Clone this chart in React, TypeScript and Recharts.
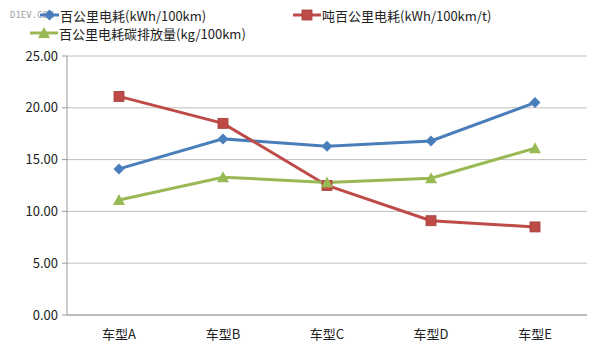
import { LineChart, Line, XAxis, YAxis, CartesianGrid, Legend } from 'recharts';

const categories = ['车型A', '车型B', '车型C', '车型D', '车型E'];
const energy = [14.1, 17.0, 16.3, 16.8, 20.5];
const energyPerTon = [21.1, 18.5, 12.5, 9.1, 8.5];
const carbon = [11.1, 13.3, 12.8, 13.2, 16.1];
const yTicks = [0, 5, 10, 15, 20, 25];
const boundaryTicks = [0, 1, 2, 3, 4, 5];

const SERIES = [
  { key: 'energy', name: '百公里电耗(kWh/100km)', color: '#4a7ebb', shape: 'diamond' },
  { key: 'perTon', name: '吨百公里电耗(kWh/100km/t)', color: '#be4b48', shape: 'square' },
  { key: 'carbon', name: '百公里电耗碳排放量(kg/100km)', color: '#98b954', shape: 'triangle' },
];

const data = categories.map((c, i) => ({
  name: c,
  idx: i + 0.5,
  energy: energy[i],
  perTon: energyPerTon[i],
  carbon: carbon[i],
}));

const FONT = '"Noto Sans CJK SC", "Noto Sans", sans-serif';

function Marker({ shape, color, cx, cy }: any) {
  if (cx == null || cy == null) return null;
  if (shape === 'diamond') {
    return <polygon points={`${cx},${cy - 5.5} ${cx + 5.5},${cy} ${cx},${cy + 5.5} ${cx - 5.5},${cy}`} fill={color} />;
  }
  if (shape === 'square') {
    return <rect x={cx - 5} y={cy - 5} width={10} height={10} fill={color} stroke="#a33c39" strokeWidth={0.8} />;
  }
  return <polygon points={`${cx},${cy - 6} ${cx + 6},${cy + 5} ${cx - 6},${cy + 5}`} fill={color} />;
}

const legendPos = [
  { x: 40, y: 7 },
  { x: 293, y: 7 },
  { x: 30, y: 25 },
];

function LegendBox() {
  return (
    <div style={{ position: 'relative', width: 600, height: 44, fontFamily: FONT }}>
      <span style={{ position: 'absolute', left: 10, top: 10, fontSize: 9, lineHeight: '10px', color: '#8a8a8a', fontFamily: 'DejaVu Sans Mono, monospace', opacity: 0.8 }}>D1EV.COM</span>
      {SERIES.map((s, i) => {
        const p = legendPos[i];
        const w = i === 0 ? 19 : 28;
        return (
          <div key={s.key} style={{ position: 'absolute', left: p.x, top: p.y, display: 'flex', alignItems: 'center', height: 16 }}>
            <svg width={w} height={14} style={{ display: 'block' }}>
              <line x1={0} y1={7} x2={w} y2={7} stroke={s.color} strokeWidth={3} />
              <Marker shape={s.shape} color={s.color} cx={w / 2} cy={7} />
            </svg>
            <span style={{ fontSize: 13, lineHeight: '15px', color: '#222', marginLeft: 1, whiteSpace: 'nowrap' }}>{s.name}</span>
          </div>
        );
      })}
    </div>
  );
}

export default function App() {
  return (
    <div style={{ position: 'fixed', left: 0, top: 0, width: 600, height: 355, background: '#fff' }}>
      <LineChart width={600} height={355} data={data} margin={{ top: 12, right: 13, bottom: 10, left: 7 }}>
        <CartesianGrid vertical={false} stroke="#c0c0c0" strokeWidth={1} />
        <XAxis
          xAxisId="b"
          type="number"
          dataKey="idx"
          domain={[0, 5]}
          ticks={boundaryTicks}
          height={0}
          axisLine={false}
          tickLine={{ stroke: '#999' }}
          tickSize={5}
          tick={() => <g />}
        />
        <XAxis
          dataKey="name"
          scale="band"
          height={30}
          axisLine={{ stroke: '#999' }}
          tickLine={false}
          tick={{ fill: '#222', fontSize: 13, fontFamily: FONT }}
          tickMargin={9}
        />
        <YAxis
          width={60}
          domain={[0, 25]}
          ticks={yTicks}
          tickFormatter={(v: number) => v.toFixed(2)}
          axisLine={{ stroke: '#999' }}
          tickLine={{ stroke: '#999' }}
          tickSize={5}
          tick={{ fill: '#222', fontSize: 13, fontFamily: FONT }}
          tickMargin={4}
        />
        <Legend verticalAlign="top" height={44} content={() => <LegendBox />} wrapperStyle={{ top: 0, left: 0, width: 600, height: 44 }} />
        {SERIES.map((s) => (
          <Line
            key={s.key}
            dataKey={s.key}
            name={s.name}
            stroke={s.color}
            strokeWidth={3}
            isAnimationActive={false}
            dot={(props: any) => <Marker key={`${s.key}-${props.index}`} shape={s.shape} color={s.color} cx={props.cx} cy={props.cy} />}
            activeDot={false}
          />
        ))}
      </LineChart>
    </div>
  );
}
